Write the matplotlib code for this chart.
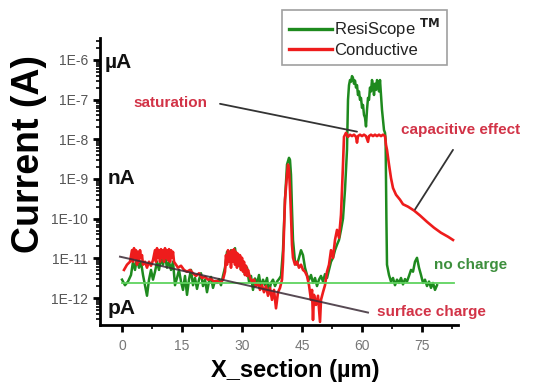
import numpy as np
import matplotlib
matplotlib.use("Agg")
import matplotlib.pyplot as plt
from matplotlib.ticker import LogLocator, FuncFormatter, MultipleLocator, NullFormatter

plt.rcParams['font.family'] = ['Liberation Sans', 'DejaVu Sans']

# ---------------- data (x in µm, current in A) ----------------
resiscope_x = [0.0, 0.75, 1.5, 2.25, 2.75, 3.25, 3.75, 4.25, 4.75, 5.25, 5.75, 6.25, 6.75, 7.25, 7.75,
               8.25, 8.75, 9.25, 9.75, 10.25, 10.75, 11.25, 11.75, 12.25, 12.75, 13.25, 13.75, 14.25,
               14.75, 15.25, 15.75, 16.25, 16.75, 17.25, 17.75, 18.25, 18.75, 19.25, 19.75, 20.25,
               20.75, 21.25, 21.75, 22.25, 22.75, 23.25, 23.75, 24.25, 24.75, 25.25, 25.75, 26.25,
               26.75, 27.25, 27.75, 28.25, 28.75, 29.25, 29.75, 30.25, 30.75, 31.25, 31.75, 32.25,
               32.75, 33.25, 33.75, 34.25, 34.75, 35.25, 35.75, 36.25, 36.75, 37.25, 37.75, 38.25,
               38.75, 39.25, 39.75, 40.25, 40.75, 41.25, 41.75, 42.0, 42.25, 42.5, 42.75, 43.25,
               43.75, 44.25, 44.75, 45.25, 45.75, 46.25, 46.75, 47.25, 47.75, 48.25, 48.75, 49.25,
               49.75, 50.25, 50.75, 51.25, 51.75, 52.25, 52.75, 53.25, 53.75, 54.25, 54.75, 55.25,
               55.75, 56.25, 56.5, 56.75, 57.0, 57.25, 57.5, 57.75, 58.0, 58.25, 58.5, 58.75, 59.0,
               59.25, 59.5, 59.75, 60.0, 60.25, 60.5, 60.75, 61.0, 61.25, 61.5, 61.75, 62.0, 62.25,
               62.5, 62.75, 63.0, 63.25, 63.5, 63.75, 64.0, 64.25, 64.5, 64.75, 65.0, 65.25, 65.5,
               65.75, 65.9, 66.1, 66.25, 66.75, 67.25, 67.75, 68.25, 68.75, 69.25, 69.75, 70.25,
               70.75, 71.25, 71.75, 72.25, 72.75, 73.25, 73.75, 74.25, 74.75, 75.25, 75.75, 76.25,
               76.75, 77.25, 77.75, 78.25, 78.75]
resiscope_y = [2.9e-12, 2.1e-12, 2.6e-12, 3.8e-12, 8.2e-12, 5.1e-12, 1.03e-11, 5.8e-12, 8.2e-12, 3.8e-12,
               2.1e-12, 1.14e-12, 2.9e-12, 5.1e-12, 2.9e-12, 4.6e-12, 8.2e-12, 5.1e-12, 1.03e-11, 6.9e-12,
               1.2e-11, 5.8e-12, 8.2e-12, 5.1e-12, 8.2e-12, 2.1e-12, 3.2e-12, 5.1e-12, 2.6e-12, 1.6e-12,
               3.6e-12, 1.2e-12, 2.9e-12, 5.1e-12, 2.1e-12, 3.2e-12, 1.7e-12, 2.9e-12, 4.2e-12, 2.0e-12,
               2.9e-12, 1.4e-12, 2.6e-12, 3.4e-12, 1.8e-12, 2.7e-12, 2.4e-12, 3.0e-12, 2.1e-12, 3.6e-12,
               5.8e-12, 1.45e-11, 8.2e-12, 1.6e-11, 1.03e-11, 1.8e-11, 6.9e-12, 1.2e-11, 5.1e-12, 8.2e-12,
               3.8e-12, 5.8e-12, 2.6e-12, 3.6e-12, 1.6e-12, 3.1e-12, 2.3e-12, 3.8e-12, 1.8e-12, 2.9e-12,
               2.1e-12, 3.2e-12, 1.4e-12, 2.4e-12, 2.9e-12, 2.0e-12, 2.6e-12, 3.0e-12, 3.6e-12, 1.6e-11,
               3.0e-10, 2.3e-9, 3.4e-9, 3.0e-9, 1.27e-9, 1.7e-10, 2.9e-11, 8.2e-12, 6.9e-12, 1.03e-11,
               1.6e-11, 1.2e-11, 5.8e-12, 3.8e-12, 2.9e-12, 3.8e-12, 2.4e-12, 3.2e-12, 2.0e-12, 2.9e-12,
               3.6e-12, 2.6e-12, 4.0e-12, 3.2e-12, 5.1e-12, 8.2e-12, 1.03e-11, 1.6e-11, 2.2e-11, 2.9e-11,
               5.2e-11, 1.0e-10, 5.3e-10, 5.4e-9, 9.8e-8, 2.3e-7, 3.1e-7, 2.8e-7, 3.9e-7, 3.5e-7, 2.5e-7,
               3.0e-7, 2.0e-7, 2.3e-7, 1.3e-7, 1.6e-7, 9.8e-8, 1.1e-7, 6.2e-8, 7.3e-8, 4.1e-8, 3.5e-8,
               2.1e-8, 5.5e-8, 1.1e-7, 9.8e-8, 2.0e-7, 1.6e-7, 3.1e-7, 2.3e-7, 1.3e-7, 2.5e-7, 1.75e-7,
               3.1e-7, 2.8e-7, 1.6e-7, 3.1e-7, 1.3e-7, 5.5e-8, 3.1e-8, 1.7e-8, 1.45e-8, 1.0e-8, 1.0e-10,
               6.9e-12, 3.8e-12, 2.6e-12, 3.2e-12, 2.1e-12, 2.9e-12, 2.4e-12, 3.2e-12, 2.2e-12, 3.0e-12,
               2.6e-12, 3.6e-12, 5.1e-12, 4.6e-12, 8.2e-12, 1.03e-11, 5.8e-12, 3.8e-12, 2.4e-12, 2.9e-12,
               2.0e-12, 2.6e-12, 1.8e-12, 2.4e-12, 1.6e-12, 2.1e-12]

conductive_x = [0.5, 1.25, 2.0, 2.5, 2.75, 3.0, 3.25, 3.5, 3.75, 4.0, 4.25, 4.5, 4.75, 5.0, 5.25, 5.75,
                6.25, 6.75, 7.25, 7.75, 8.25, 8.5, 8.75, 9.0, 9.25, 9.5, 9.75, 10.0, 10.25, 10.5, 10.75,
                11.0, 11.25, 11.5, 11.75, 12.0, 12.25, 12.5, 12.75, 13.0, 13.5, 14.0, 14.75, 15.5,
                16.25, 17.0, 17.75, 18.5, 19.25, 20.0, 20.75, 21.5, 22.25, 23.0, 23.75, 24.5, 25.25,
                25.75, 26.0, 26.25, 26.5, 26.75, 27.0, 27.25, 27.5, 27.75, 28.0, 28.25, 28.5, 28.75,
                29.0, 29.25, 29.5, 29.75, 30.0, 30.25, 30.5, 30.75, 31.0, 31.25, 31.5, 32.0, 32.5,
                33.0, 33.5, 34.0, 34.5, 35.0, 35.5, 36.0, 36.5, 37.0, 37.5, 38.0, 38.5, 39.0, 39.5,
                40.0, 40.25, 40.5, 40.75, 41.25, 41.5, 41.75, 42.0, 42.25, 42.5, 42.75, 43.25, 43.75,
                44.25, 44.75, 45.25, 45.75, 46.25, 46.75, 47.25, 47.5, 47.75, 48.0, 48.5, 49.0, 49.5,
                49.75, 50.25, 50.75, 51.25, 51.75, 52.25, 52.75, 53.25, 53.75, 54.25, 54.75, 55.0,
                55.25, 55.5, 56.0, 56.5, 57.0, 57.5, 58.0, 58.5, 58.75, 59.0, 59.5, 60.0, 60.5, 61.0,
                61.5, 61.75, 62.25, 62.75, 63.25, 63.75, 64.25, 64.75, 65.25, 65.75, 66.0, 66.25,
                66.75, 67.25, 67.75, 68.5, 69.5, 70.25, 71.5, 73.0, 74.5, 76.25, 78.0, 79.75, 81.5,
                82.75]
conductive_y = [5.1e-12, 6.9e-12, 8.2e-12, 1.6e-11, 8.2e-12, 1.8e-11, 1.03e-11, 1.6e-11, 6.9e-12, 1.45e-11,
                8.2e-12, 1.6e-11, 1.03e-11, 1.2e-11, 6.9e-12, 8.2e-12, 5.8e-12, 8.2e-12, 6.5e-12, 9.0e-12,
                1.6e-11, 8.2e-12, 1.8e-11, 1.03e-11, 1.6e-11, 8.2e-12, 1.7e-11, 1.03e-11, 1.6e-11, 8.2e-12,
                1.8e-11, 1.03e-11, 1.6e-11, 9.0e-12, 1.7e-11, 8.2e-12, 1.6e-11, 1.03e-11, 1.45e-11, 8.2e-12,
                6.9e-12, 5.8e-12, 6.5e-12, 5.1e-12, 4.6e-12, 5.1e-12, 4.2e-12, 3.6e-12, 4.2e-12, 3.2e-12,
                3.4e-12, 2.9e-12, 3.0e-12, 2.6e-12, 2.7e-12, 2.4e-12, 2.9e-12, 4.6e-12, 1.2e-11, 6.9e-12,
                1.6e-11, 8.2e-12, 1.45e-11, 5.8e-12, 1.6e-11, 8.2e-12, 1.7e-11, 6.9e-12, 1.45e-11, 5.8e-12,
                1.3e-11, 6.5e-12, 1.2e-11, 5.1e-12, 1.03e-11, 4.6e-12, 8.2e-12, 3.8e-12, 6.5e-12, 3.6e-12,
                5.1e-12, 3.2e-12, 2.6e-12, 2.9e-12, 2.0e-12, 2.4e-12, 1.6e-12, 2.1e-12, 1.4e-12, 2.0e-12,
                1.14e-12, 1.8e-12, 9.0e-13, 1.6e-12, 5.5e-13, 1.4e-12, 1.8e-12, 2.9e-12, 8.2e-12, 5.2e-11,
                3.0e-10, 1.27e-9, 2.3e-9, 1.7e-9, 5.3e-10, 1.25e-10, 2.2e-11, 1.03e-11, 6.9e-12, 8.2e-12,
                5.8e-12, 6.9e-12, 5.1e-12, 4.6e-12, 3.6e-12, 2.1e-12, 9.0e-13, 1.6e-12, 2.8e-13, 1.2e-12,
                6.7e-13, 1.14e-12, 2.5e-13, 9.0e-13, 1.4e-12, 2.1e-12, 4.6e-12, 6.9e-12, 1.6e-11, 1.03e-11,
                2.9e-11, 5.2e-11, 3.3e-11, 1.25e-10, 5.3e-10, 2.3e-9, 1.15e-8, 1.45e-8, 1.15e-8, 1.3e-8,
                1.2e-8, 1.3e-8, 1.15e-8, 8.2e-9, 1.2e-8, 1.3e-8, 1.2e-8, 1.3e-8, 1.2e-8, 8.6e-9, 1.2e-8,
                1.3e-8, 1.2e-8, 1.3e-8, 1.2e-8, 1.3e-8, 1.2e-8, 1.3e-8, 1.2e-8, 7.2e-9, 5.4e-9, 2.3e-9,
                1.05e-9, 5.9e-10, 4.0e-10, 3.0e-10, 2.3e-10, 2.0e-10, 1.6e-10, 1.2e-10, 8.3e-11, 5.9e-11,
                4.4e-11, 3.5e-11, 2.9e-11]

no_charge_x = [0.0, 83.0]
no_charge_y = [2.4e-12, 2.4e-12]
surface_x = [-0.5, 61.5]
surface_y = [1.1e-11, 4.3e-13]

series_labels = ["ResiScope $^{\\mathbf{TM}}$", "Conductive"]
x_ticks = [0, 15, 30, 45, 60, 75]
y_ticks = [1e-12, 1e-11, 1e-10, 1e-9, 1e-8, 1e-7, 1e-6]

# ---------------- figure ----------------
W, H = 534, 383
fig = plt.figure(figsize=(W / 100, H / 100), dpi=100)
ax = fig.add_axes([100 / W, 1 - 325 / H, 358 / W, 287 / H])

green = '#1e8a1e'
red = '#ee1c1c'
ax.plot(resiscope_x, resiscope_y, color=green, lw=1.8, label=series_labels[0], zorder=2)
ax.plot(conductive_x, conductive_y, color=red, lw=1.9, label=series_labels[1], zorder=3)
ax.plot(no_charge_x, no_charge_y, color='#5fd35f', lw=1.3, zorder=4)
ax.plot(surface_x, surface_y, color='#3a2a35', lw=1.4, alpha=0.85, zorder=5)

ax.set_yscale('log')
ax.set_xlim(-5.5, 84)
ax.set_ylim(10 ** -12.68, 10 ** -5.45)
ax.set_xticks(x_ticks)
ax.xaxis.set_minor_locator(MultipleLocator(7.5))
ax.set_yticks(y_ticks)
ax.yaxis.set_major_formatter(FuncFormatter(lambda v, p: "1E%d" % int(round(np.log10(v)))))
ax.yaxis.set_minor_locator(LogLocator(base=10, subs=np.arange(2, 10), numticks=20))
ax.yaxis.set_minor_formatter(NullFormatter())

for s in ['top', 'right']:
    ax.spines[s].set_visible(False)
for s in ['left', 'bottom']:
    ax.spines[s].set_linewidth(2.0)
ax.tick_params(which='major', direction='out', length=5, width=2, labelsize=10, colors='black')
ax.tick_params(which='minor', direction='out', length=3, width=1.2)
ax.tick_params(axis='y', which='both', labelcolor='#555555')
ax.tick_params(axis='x', which='both', labelcolor='#777777', pad=5)

fig.text(29 / W, 1 - 154 / H, "Current (A)", rotation=90, ha='center', va='center',
         fontsize=27, fontweight='bold')
fig.text(295 / W, 1 - 377 / H, "X_section (\u00b5m)", ha='center', va='baseline',
         fontsize=17, fontweight='bold')

# unit labels
for lab, fx, fy in [("\u00b5A", 0.014, 0.916), ("nA", 0.022, 0.512), ("pA", 0.02, 0.059)]:
    ax.text(fx, fy, lab, transform=ax.transAxes, ha='left', va='center', fontsize=15,
            fontweight='bold', color='#111111')

txt_red = '#d23347'
txt_green = '#3d8f3d'
ax.text(0.196, 0.774, "saturation", transform=ax.transAxes, ha='center', va='center',
        fontsize=11, fontweight='bold', color=txt_red)
ax.text(1.006, 0.679, "capacitive effect", transform=ax.transAxes, ha='center', va='center',
        fontsize=11, fontweight='bold', color=txt_red, clip_on=False)
ax.text(1.036, 0.209, "no charge", transform=ax.transAxes, ha='center', va='center',
        fontsize=11, fontweight='bold', color=txt_green, clip_on=False)
ax.text(0.925, 0.045, "surface charge", transform=ax.transAxes, ha='center', va='center',
        fontsize=11, fontweight='bold', color=txt_red, clip_on=False)

# pointer lines
line_kw = dict(arrowstyle='-', color='#333333', lw=1.3, shrinkA=0, shrinkB=0)
ax.annotate('', xy=(58.75, 1.55e-8), xytext=(24.5, 7.8e-8), arrowprops=line_kw)
ax.annotate('', xy=(73.25, 1.7e-10), xytext=(82.75, 5.4e-9), arrowprops=line_kw,
            annotation_clip=False)

leg = ax.legend(loc='upper left', bbox_to_anchor=(282 / W, 1 - 10 / H),
                bbox_transform=fig.transFigure, fontsize=12, frameon=True, fancybox=False,
                edgecolor='#888888', handlelength=2.6, handletextpad=0.15, labelspacing=0.2,
                borderpad=0.4, borderaxespad=0)
leg.get_frame().set_linewidth(1.2)
for t in leg.get_texts():
    t.set_color('#222222')
for l in leg.get_lines():
    l.set_linewidth(2.4)

fig.savefig("out.png", dpi=100)
